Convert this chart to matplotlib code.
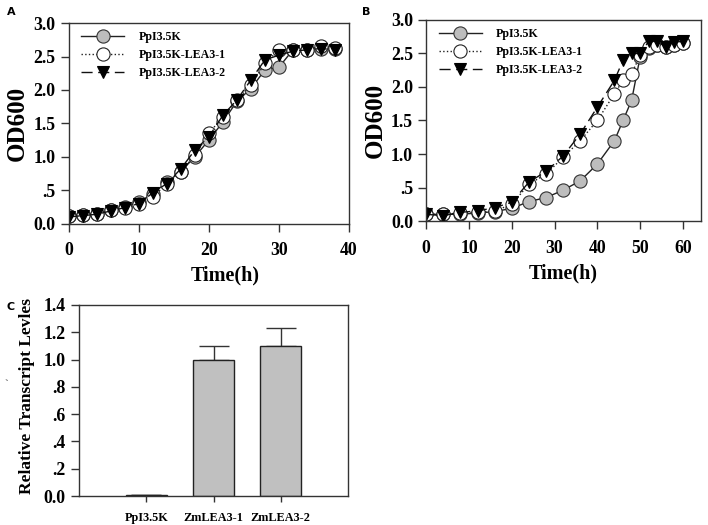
import numpy as np
import matplotlib
matplotlib.use("Agg")
import matplotlib.pyplot as plt
from matplotlib.ticker import FuncFormatter

plt.rcParams['font.family'] = 'Liberation Serif'
plt.rcParams['font.weight'] = 'bold'

# ---- data ----
labels = ["PpI3.5K", "PpI3.5K-LEA3-1", "PpI3.5K-LEA3-2"]

time_a = [0, 2, 4, 6, 8, 10, 12, 14, 16, 18, 20, 22, 24, 26, 28, 30, 32, 34, 36, 38]
od_a_wt = [0.12, 0.13, 0.15, 0.20, 0.25, 0.32, 0.45, 0.62, 0.78, 1.00, 1.25, 1.52,
           1.83, 2.02, 2.30, 2.34, 2.60, 2.60, 2.62, 2.62]
od_a_l1 = [0.12, 0.13, 0.15, 0.20, 0.24, 0.30, 0.40, 0.60, 0.78, 1.02, 1.35, 1.60,
           1.85, 2.07, 2.40, 2.60, 2.60, 2.60, 2.66, 2.63]
od_a_l2 = [0.10, 0.12, 0.14, 0.19, 0.24, 0.30, 0.46, 0.60, 0.82, 1.10, 1.30, 1.62,
           1.85, 2.15, 2.45, 2.52, 2.58, 2.60, 2.62, 2.60]

time_b = [0, 4, 8, 12, 16, 20, 24, 28, 32, 36, 40, 44, 46, 48, 50, 52, 54, 56, 58, 60]
od_b_wt = [0.10, 0.10, 0.10, 0.12, 0.14, 0.19, 0.29, 0.35, 0.46, 0.60, 0.85, 1.20,
           1.50, 1.80, 2.45, 2.58, 2.62, 2.60, 2.63, 2.65]
od_b_l1 = [0.10, 0.10, 0.12, 0.13, 0.15, 0.25, 0.55, 0.70, 0.95, 1.20, 1.50, 1.90,
           2.10, 2.20, 2.47, 2.60, 2.62, 2.60, 2.63, 2.65]
od_b_l2 = [0.10, 0.08, 0.13, 0.15, 0.20, 0.28, 0.58, 0.74, 0.97, 1.30, 1.70, 2.10,
           2.40, 2.50, 2.50, 2.68, 2.68, 2.60, 2.67, 2.68]

bar_names = ["PpI3.5K", "ZmLEA3-1", "ZmLEA3-2"]
bar_vals = [0.01, 1.00, 1.10]
bar_err = [0.0, 0.10, 0.13]

frame_col = '#333333'


def short_fmt(v, pos):
    s = '%.1f' % v
    if 0 < abs(v) < 1:
        s = s.replace('0.', '.')
    return s


def style_axes(ax):
    for sp in ax.spines.values():
        sp.set_color(frame_col)
        sp.set_linewidth(1.0)
    ax.tick_params(direction='out', length=5.5, width=1, color=frame_col,
                   labelsize=12.8)
    ax.yaxis.set_major_formatter(FuncFormatter(short_fmt))


def growth(ax, t, wt, l1, l2):
    ax.plot(t, wt, '-', color='#222222', lw=1, marker='o', ms=9.5,
            mfc='#bdbdbd', mec='#333333', mew=0.8, label=labels[0])
    ax.plot(t, l1, ':', color='#222222', lw=1, marker='o', ms=9.5,
            mfc='white', mec='#222222', mew=0.8, label=labels[1])
    ax.plot(t, l2, '--', color='#111111', lw=1, dashes=(8, 4), marker='v', ms=9,
            mfc='black', mec='black', mew=0.8, label=labels[2])
    ax.set_ylim(0, 3)
    ax.set_yticks([0, 0.5, 1, 1.5, 2, 2.5, 3])
    ax.set_ylabel('OD600', fontsize=18, fontweight='bold', labelpad=3)
    ax.set_xlabel('Time(h)', fontsize=14.5, fontweight='bold')
    style_axes(ax)
    ax.tick_params(axis='x', pad=8)
    ax.tick_params(axis='y', pad=4)
    ax.legend(loc='upper left', frameon=False, prop={'size': 8.6, 'weight': 'bold'},
              handlelength=3.6, handletextpad=1.2, labelspacing=0.5,
              borderaxespad=0.3, bbox_to_anchor=(0.015, 1.0))


fig = plt.figure(figsize=(7.08, 5.25), dpi=100)

axA = fig.add_axes([0.097, 0.574, 0.396, 0.382])
growth(axA, time_a, od_a_wt, od_a_l1, od_a_l2)
axA.set_xlim(0, 40)
axA.set_xticks([0, 10, 20, 30, 40])
axA.xaxis.set_label_coords(0.56, -0.21)

axB = fig.add_axes([0.602, 0.579, 0.388, 0.383])
growth(axB, time_b, od_b_wt, od_b_l1, od_b_l2)
axB.set_xlim(0, 64.2)
axB.set_xticks([0, 10, 20, 30, 40, 50, 60])
axB.xaxis.set_label_coords(0.5, -0.21)

axC = fig.add_axes([0.1116, 0.0552, 0.380, 0.364])
pos = np.arange(1, len(bar_vals) + 1)
axC.bar(pos, bar_vals, width=0.61, color='#c0c0c0', edgecolor='#222222', lw=1,
        zorder=2)
axC.errorbar(pos, bar_vals, yerr=[np.zeros(len(bar_err)), bar_err], fmt='none',
             ecolor='#333333', elinewidth=1, capsize=11, capthick=1, zorder=1)
axC.set_xlim(0, 4)
axC.set_ylim(0, 1.4)
axC.set_yticks(np.arange(0, 1.41, 0.2))
axC.set_xticks(pos)
axC.set_xticklabels(bar_names)
style_axes(axC)
axC.tick_params(axis='x', labelsize=8.8, pad=7, length=4.5)
axC.tick_params(axis='y', pad=4)
axC.set_ylabel('Relative Transcript Levles', fontsize=12.5, fontweight='bold')
axC.yaxis.set_label_coords(-0.165, 0.525)

for txt, x, y in [('A', 0.010, 0.978), ('B', 0.512, 0.978), ('C', 0.009, 0.416)]:
    fig.text(x, y, txt, family='DejaVu Sans', fontsize=8, fontweight='bold',
             va='center', ha='left')
fig.text(0.006, 0.262, '`', fontsize=8, color='#555555')

fig.savefig('out.png', dpi=100)
